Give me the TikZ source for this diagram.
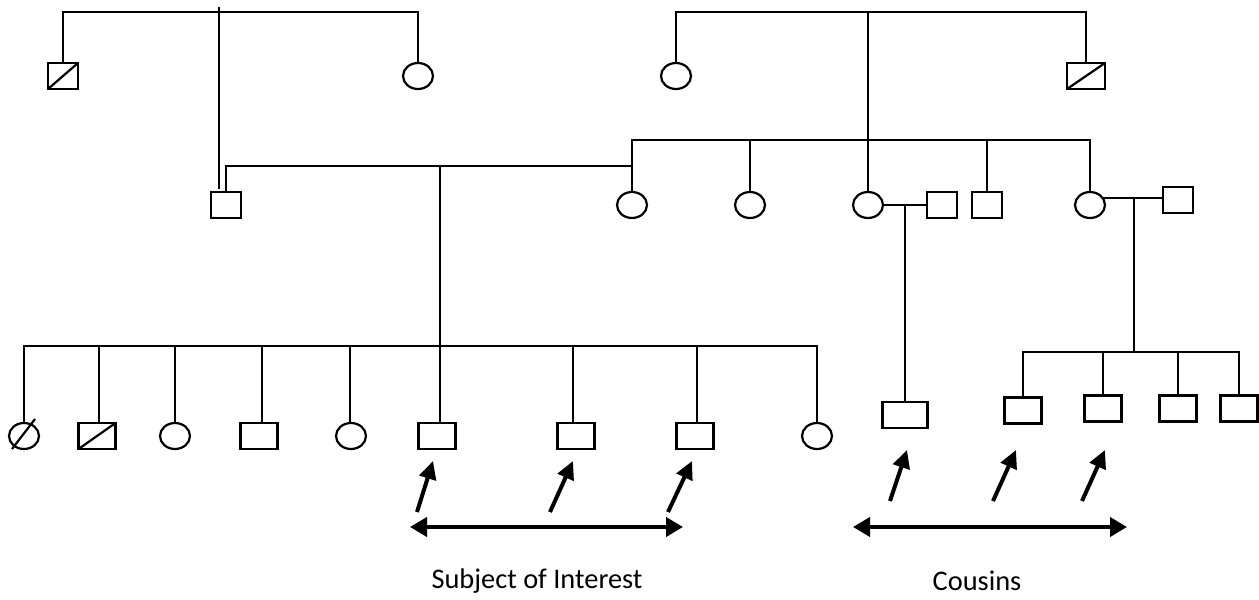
\documentclass[tikz,border=0pt]{standalone}
\usepackage{fontspec}
\setmainfont{Carlito}
\usetikzlibrary{shapes.geometric,arrows.meta}
\begin{document}
\begin{tikzpicture}[x=1pt,y=-1pt,line width=2.2pt,
  fem/.style={ellipse,draw,minimum width=30pt,minimum height=26pt,inner sep=0pt,outer sep=0pt},
  mal/.style={rectangle,draw,minimum width=#1,minimum height=26pt,inner sep=0pt,outer sep=0pt},
  mal/.default=30pt,
  ptr/.style={line width=4pt,-{Triangle[length=18pt,width=17pt]}},
  span/.style={line width=4pt,{Triangle[length=17pt,width=19pt]}-{Triangle[length=17pt,width=19pt]}},
  lbl/.style={font=\fontsize{28.4}{32}\selectfont}
]
\useasboundingbox (0,0) rectangle (1259,600);

% ---------- generation I ----------
\node[mal] (g1a) at (63,76) {};
\node[fem] (g1b) at (418,76) {};
\node[fem] (g1c) at (676,76) {};
\node[mal=38pt] (g1d) at (1086,76) {};
\draw (g1a.south west) -- (g1a.north east);
\draw (g1d.south west) -- (g1d.north east);
\coordinate (top1) at (219,12);
\coordinate (top2) at (868,12);
\draw (g1a.north) |- (top1) -| (g1b.north);
\draw (g1c.north) |- (top2) -| (g1d.north);

% ---------- generation II ----------
\node[mal] (f) at (226,205) {};
\node[fem] (c1) at (632,205) {};
\node[fem] (c2) at (750,205) {};
\node[fem] (c3) at (868,205) {};
\node[mal] (s1) at (942,205) {};
\node[mal] (s2) at (987,205) {};
\node[fem] (c4) at (1090,205) {};
\node[mal] (s3) at (1178,200) {};

\draw (219,7) -- (219,189);
\coordinate (sib2) at (868,140);
\draw (c1.north) |- (sib2) -| (c4.north);
\draw (top2) -- (c3.north);
\draw (c2.north) -- (c2.north |- sib2);
\draw (s2.north) -- (s2.north |- sib2);

% marriage of f and c1
\coordinate (m1) at (440,166);
\draw (f.north) |- (m1) -- (m1 -| c1.north);

% marriages on the right
\coordinate (m2) at (905,205);
\draw (c3.east) -- (s1.west);
\coordinate (m3) at (1134,198);
\draw (c4.29) -- (s3.west |- c4.29);

% ---------- generation III (left) ----------
\node[fem] (a1) at (24,436) {};
\node[mal=37pt] (a2) at (97,436) {};
\node[fem] (a3) at (175,436) {};
\node[mal=37pt] (a4) at (259,436) {};
\node[fem] (a5) at (351,436) {};
\node[mal=37pt] (a6) at (437,436) {};
\node[mal=37pt] (a7) at (576,436) {};
\node[mal=37pt] (a8) at (695,436) {};
\node[fem] (a9) at (817,436) {};
\draw (12,449) -- (35,419);
\draw (a2.south west) -- (a2.north east);

\coordinate (sib3) at (440,346);
\draw (a1.north) |- (sib3) -| (a9.north);
\draw (m1) -- (440,423);
\foreach \x in {99,175,262,350,573,697}
  \draw (\x,346) -- (\x,423);

% ---------- generation III (right) ----------
\node[mal=45pt] (b1) at (905,415) {};
\node[mal=37pt] (b2) at (1023,410.5) {};
\node[mal=37pt] (b3) at (1103,408.5) {};
\node[mal=37pt] (b4) at (1178,408.5) {};
\node[mal=37pt] (b5) at (1239,408.5) {};
\draw (m2) -- (b1.north);
\coordinate (sib4) at (1134,352);
\draw (m3 |- c4.29) -- (sib4);
\draw (b2.north) |- (sib4) -| (b5.north);
\draw (b3.north) -- (b3.north |- sib4);
\draw (b4.north) -- (b4.north |- sib4);

% ---------- pointers ----------
\coordinate (p1) at (417,512); \coordinate (q1) at (433,461);
\coordinate (p2) at (550,512); \coordinate (q2) at (573,461);
\coordinate (p3) at (668,512); \coordinate (q3) at (692,461);
\coordinate (p4) at (890,501); \coordinate (q4) at (907,450);
\coordinate (p5) at (993,501); \coordinate (q5) at (1016,450);
\coordinate (p6) at (1082,501); \coordinate (q6) at (1105,450);
\foreach \i in {1,...,6} \draw[ptr] (p\i) -- (q\i);

\coordinate (l1) at (410,527); \coordinate (r1) at (683,527);
\coordinate (l2) at (853,527); \coordinate (r2) at (1127,527);
\draw[span] (l1) -- (r1);
\draw[span] (l2) -- (r2);

\node[lbl] (t1) at (537,581) {Subject of Interest};
\node[lbl] (t2) at (977,581) {Cousins};
\end{tikzpicture}
\end{document}
